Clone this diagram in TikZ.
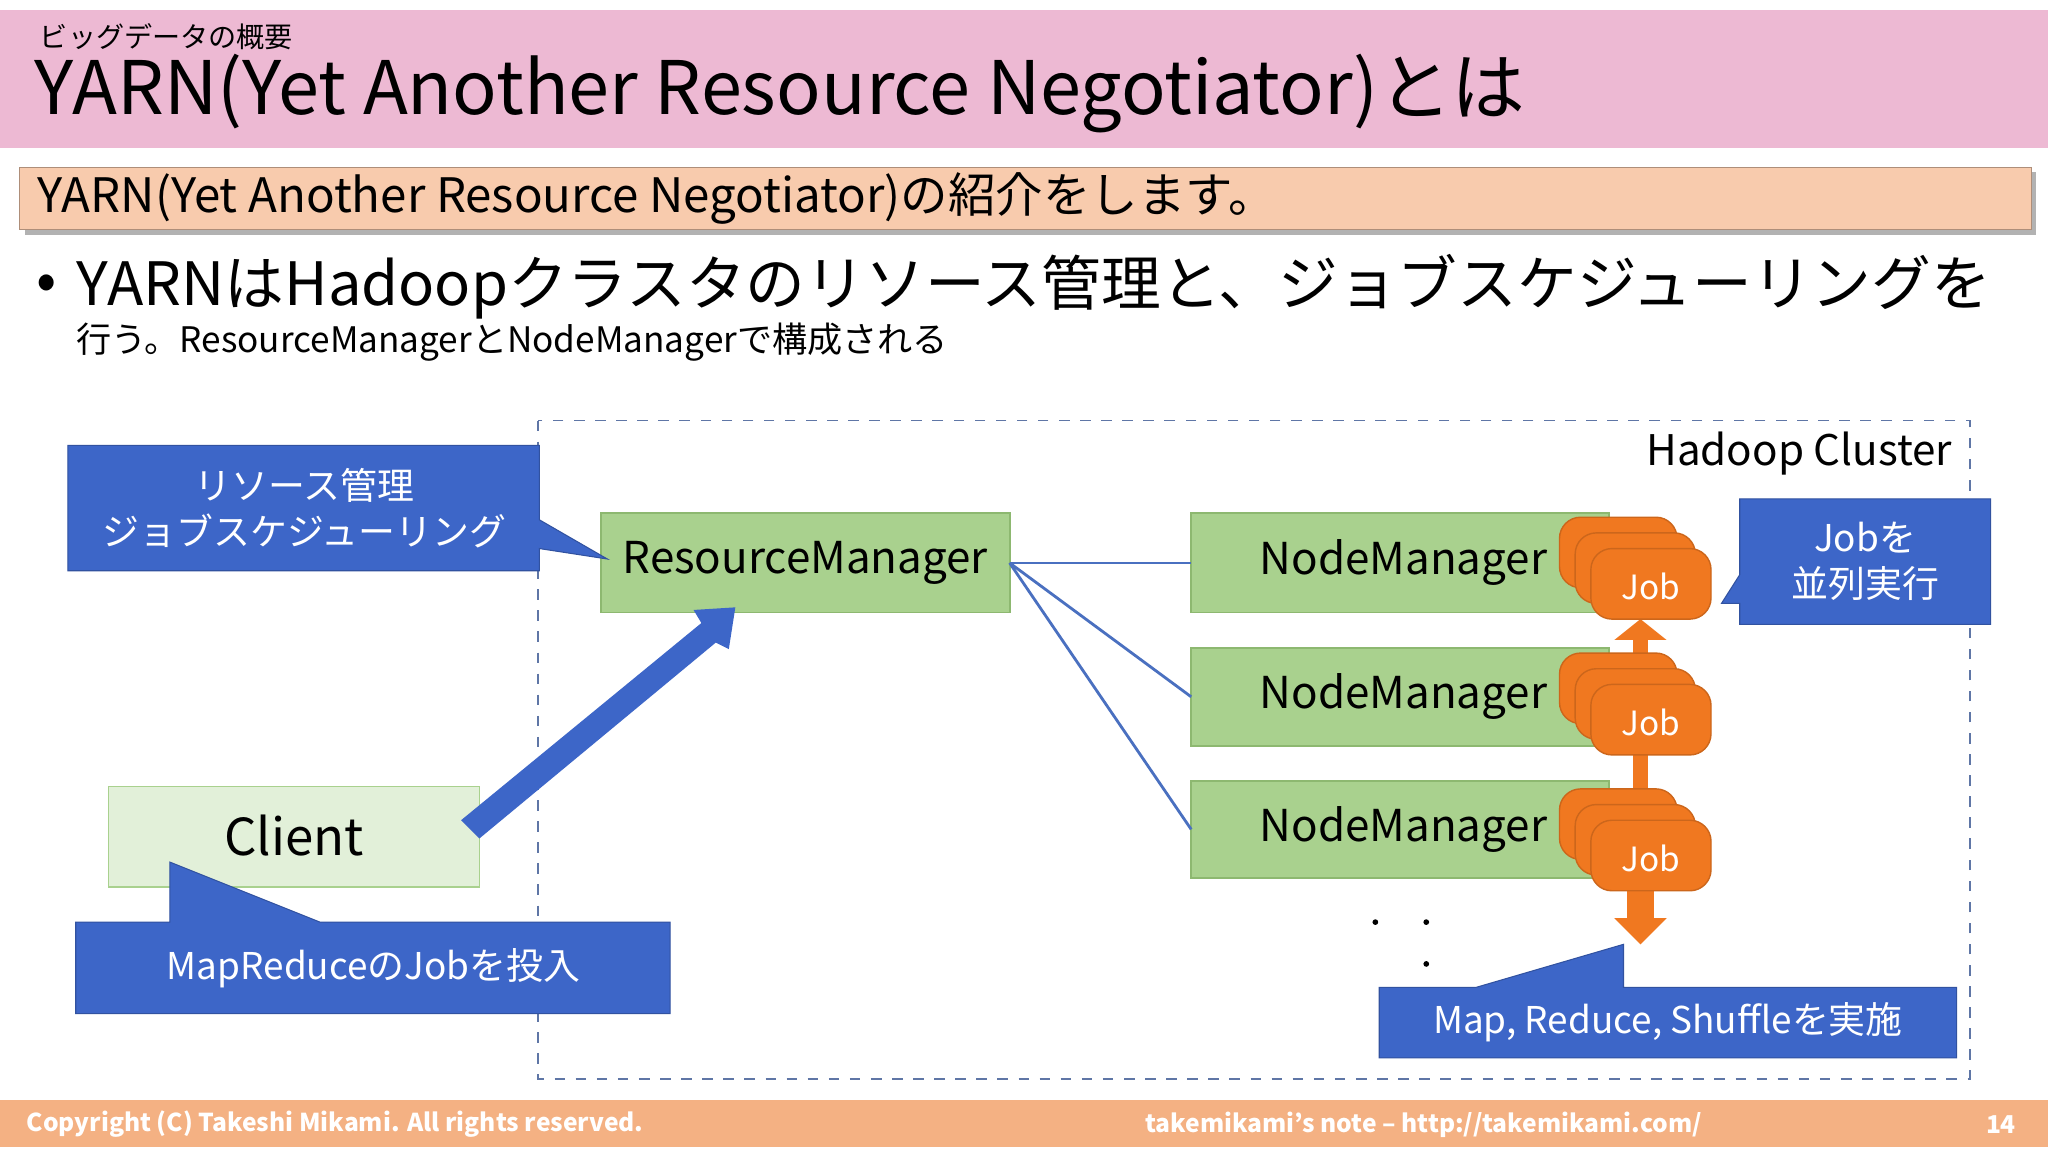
\documentclass[tikz,border=0pt]{standalone}
\usepackage{fontspec}
\setmainfont{Noto Sans CJK JP}
\usetikzlibrary{arrows.meta,shadows}
\definecolor{pinkband}{HTML}{EDB9D3}
\definecolor{banner}{HTML}{F8CBAD}
\definecolor{foot}{HTML}{F4B183}
\definecolor{rmg}{HTML}{A9D18E}
\definecolor{rmb}{HTML}{8DB870}
\definecolor{cli}{HTML}{E2F0D9}
\definecolor{callb}{HTML}{3D66C8}
\definecolor{jobo}{HTML}{F07820}
\definecolor{lineb}{HTML}{4A70C0}
\begin{document}
\begin{tikzpicture}[x=0.013061cm,y=-0.013061cm,
  callout/.style={fill=callb,draw=callb!80!black,line width=0.3pt},
  jobbox/.style={fill=jobo,draw=jobo!85!black,rounded corners=6pt,line width=0.4pt},
  calltext/.style={text=white,font=\fontsize{10.5}{13}\selectfont,align=center},
  conn/.style={draw=lineb,line width=0.8pt}]
\useasboundingbox (0,0) rectangle (1568,882);
\fill[white] (0,0) rectangle (1568,882);
% title band
\fill[pinkband] (0,8) rectangle (1568,113);
\node[anchor=west,inner sep=0] (sub) at (30,28) {\fontsize{8}{9}\selectfont ビッグデータの概要};
\node[anchor=west,inner sep=0] (title) at (26,72) {\fontsize{21}{24}\selectfont YARN(Yet Another Resource Negotiator)とは};
% banner
\fill[gray!60] (19,132) rectangle (1559,180);
\fill[banner,draw=banner!70!black,line width=0.3pt] (15,128) rectangle (1555,176);
\node[anchor=west,inner sep=0] (ban) at (28,152) {\fontsize{13.5}{16}\selectfont YARN(Yet Another Resource Negotiator)の紹介をします。};
% bullet
\node[anchor=north west,inner sep=0,align=left] (bul) at (58,194) {\fontsize{17}{19}\selectfont YARNはHadoopクラスタのリソース管理と、ジョブスケジューリングを\\行う。ResourceManagerとNodeManagerで構成される};
\node[anchor=center,inner sep=0] (dot) at (36,220) {\fontsize{17}{20}\selectfont •};
% cluster
\draw[dashed,draw=lineb!60!gray,line width=0.5pt] (412,322) rectangle (1508,826);
\node[anchor=east,inner sep=0] (hc) at (1495,347) {\fontsize{12}{14}\selectfont Hadoop Cluster};
% RM
\fill[rmg,draw=rmb,line width=0.5pt] (460,393) rectangle (773,469);
\node (rm) at (616.5,431) {\fontsize{12.5}{15}\selectfont ResourceManager};
\coordinate (rme) at (773,431);
% NMs
\foreach \i/\ya/\yb in {1/393/469,2/496/571,3/598/672}{
  \fill[rmg,draw=rmb,line width=0.5pt] (912,\ya) rectangle (1232,\yb);
  \node[anchor=west] (nm\i) at (955,{(\ya+\yb)/2}) {\fontsize{12.5}{15}\selectfont NodeManager};
  \coordinate (nmw\i) at (912,{(\ya+\yb)/2});
}
\draw[conn] (rme) -- (nmw1);
\draw[conn] (rme) -- (nmw2);
\draw[conn] (rme) -- (nmw3);
% orange arrows between jobs
\fill[jobo] (1250,488) rectangle (1262,505);
\fill[jobo] (1256,474) -- (1276,490) -- (1236,490) -- cycle;
\fill[jobo] (1250,574) rectangle (1262,606);
\fill[jobo] (1246,676) rectangle (1266,705);
\fill[jobo] (1236,703) -- (1276,703) -- (1256,723) -- cycle;
% job stacks
\foreach \i/\y in {1/420,2/524,3/628}{
  \draw[jobbox] (1194,\y-24) rectangle (1284,\y+30);
  \draw[jobbox] (1206,\y-12) rectangle (1298,\y+42);
  \draw[jobbox] (1218,\y) rectangle (1310,\y+54);
  \node[text=white] (job\i) at (1264,\y+29) {\fontsize{9.5}{11}\selectfont Job};
}
% client
\fill[cli,draw=rmg,line width=0.4pt] (83,602) rectangle (367,679);
\node (cl) at (225,640) {\fontsize{14.5}{17}\selectfont Client};
% big arrow
\fill[callb] (353,628) -- (367,642) -- (548,492) -- (558,497) -- (563,465) -- (531,467) -- (537,477) -- cycle;
% callouts
\fill[callout] (52,341) -- (413,341) -- (413,398) -- (465,428) -- (413,420) -- (413,437) -- (52,437) -- cycle;
\node[calltext] (c1) at (233,389) {リソース管理\\ジョブスケジューリング};
\fill[callout] (58,706) -- (130,706) -- (130,660) -- (245,706) -- (513,706) -- (513,776) -- (58,776) -- cycle;
\node[calltext] (c2) at (286,741) {MapReduceのJobを投入};
\fill[callout] (1332,382) -- (1524,382) -- (1524,478) -- (1332,478) -- (1332,462) -- (1318,462) -- (1332,440) -- cycle;
\node[calltext] (c3) at (1428,430) {Jobを\\並列実行};
\fill[callout] (1056,756) -- (1130,756) -- (1243,723) -- (1243,756) -- (1498,756) -- (1498,810) -- (1056,810) -- cycle;
\node[calltext] (c4) at (1277,783) {Map, Reduce, Shuffleを実施};
% dots
\fill (1053,706) circle (2.2);
\fill (1092,706) circle (2.2);
\fill (1092,738) circle (2.2);
% footer
\fill[foot] (0,842) rectangle (1568,878);
\node[anchor=west,text=white,inner sep=0] (f1) at (20,861) {\fontsize{7}{9}\selectfont\bfseries Copyright (C) Takeshi Mikami. All rights reserved.};
\node[text=white,inner sep=0] (f2) at (1090,861) {\fontsize{7}{9}\selectfont\bfseries takemikami's note -- http://takemikami.com/};
\node[text=white,inner sep=0] (f3) at (1532,861) {\fontsize{7}{9}\selectfont\bfseries 14};
\end{tikzpicture}
\end{document}
